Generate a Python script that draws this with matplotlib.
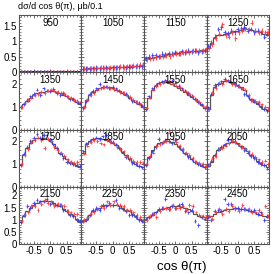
import numpy as np
import matplotlib
matplotlib.use("Agg")
import matplotlib.pyplot as plt
from matplotlib.ticker import MultipleLocator, FuncFormatter

plt.rcParams['font.family'] = ['Liberation Sans', 'DejaVu Sans']

energies = [950, 1050, 1150, 1250, 1350, 1450, 1550, 1650,
            1750, 1850, 1950, 2050, 2150, 2250, 2350, 2450]
cos_bins = [-0.9, -0.8, -0.7, -0.6, -0.5, -0.4, -0.3, -0.2, -0.1, 0.0,
            0.1, 0.2, 0.3, 0.4, 0.5, 0.6, 0.7, 0.8, 0.9]

# model histogram, one row per energy
model = [
    [0.0, 0.0, 0.0, 0.0, 0.0, 0.0, 0.0, 0.0, 0.0, 0.0, 0.0, 0.0, 0.0, 0.0, 0.0, 0.0, 0.0, 0.0, 0.0],
    [0.12, 0.12, 0.13, 0.13, 0.13, 0.14, 0.14, 0.15, 0.15, 0.16, 0.16, 0.17, 0.17, 0.18, 0.18, 0.19, 0.19, 0.2, 0.21],
    [0.42, 0.45, 0.47, 0.5, 0.52, 0.54, 0.56, 0.58, 0.6, 0.62, 0.63, 0.65, 0.66, 0.67, 0.68, 0.69, 0.7, 0.71, 0.72],
    [0.8, 0.95, 1.1, 1.2, 1.22, 1.25, 1.28, 1.3, 1.32, 1.35, 1.38, 1.42, 1.4, 1.38, 1.35, 1.32, 1.3, 1.25, 1.2],
    [1.0, 1.1, 1.25, 1.4, 1.5, 1.58, 1.62, 1.66, 1.68, 1.7, 1.68, 1.65, 1.6, 1.52, 1.45, 1.38, 1.3, 1.2, 1.1],
    [1.0, 1.3, 1.5, 1.65, 1.75, 1.82, 1.86, 1.86, 1.84, 1.8, 1.75, 1.68, 1.6, 1.5, 1.4, 1.3, 1.2, 1.1, 1.0],
    [0.9, 1.4, 1.75, 1.92, 2.02, 2.08, 2.1, 2.05, 1.98, 1.9, 1.82, 1.72, 1.62, 1.52, 1.42, 1.32, 1.2, 1.08, 0.95],
    [0.9, 1.5, 1.85, 1.98, 2.05, 2.1, 2.12, 2.08, 2.02, 1.95, 1.85, 1.72, 1.5, 1.32, 1.22, 1.12, 1.02, 0.92, 0.85],
    [0.95, 1.4, 1.7, 1.92, 2.05, 2.12, 2.15, 2.15, 2.1, 2.0, 1.85, 1.68, 1.5, 1.35, 1.2, 1.08, 1.0, 0.92, 0.85],
    [1.5, 1.85, 2.0, 2.08, 2.12, 2.15, 2.1, 2.05, 2.0, 1.92, 1.82, 1.68, 1.52, 1.38, 1.22, 1.1, 1.0, 0.9, 0.85],
    [0.95, 1.3, 1.6, 1.8, 1.9, 1.95, 2.0, 2.0, 1.95, 1.88, 1.78, 1.65, 1.5, 1.35, 1.2, 1.1, 1.0, 0.92, 0.85],
    [0.9, 1.1, 1.4, 1.6, 1.72, 1.82, 1.9, 1.95, 1.95, 1.9, 1.8, 1.7, 1.55, 1.4, 1.25, 1.15, 1.05, 0.95, 0.85],
    [0.9, 1.15, 1.35, 1.5, 1.6, 1.7, 1.75, 1.78, 1.78, 1.75, 1.7, 1.62, 1.55, 1.45, 1.35, 1.25, 1.15, 1.05, 0.9],
    [0.95, 1.05, 1.2, 1.35, 1.45, 1.5, 1.55, 1.6, 1.62, 1.62, 1.6, 1.58, 1.5, 1.42, 1.35, 1.25, 1.15, 1.05, 0.95],
    [1.0, 1.1, 1.2, 1.3, 1.4, 1.45, 1.5, 1.52, 1.55, 1.55, 1.55, 1.52, 1.5, 1.45, 1.35, 1.25, 1.15, 1.1, 1.1],
    [1.1, 1.15, 1.25, 1.3, 1.35, 1.4, 1.45, 1.45, 1.5, 1.5, 1.45, 1.45, 1.4, 1.35, 1.3, 1.25, 1.2, 1.15, 1.1],
]

blue = [
    [0.0, 0.0, 0.01, 0.0, 0.0, 0.01, 0.0, 0.0, 0.0, 0.01, 0.0, 0.0, 0.01, 0.0, 0.0, 0.0, 0.01, 0.0, 0.0],
    [0.11, 0.13, 0.12, 0.14, 0.15, 0.13, 0.15, 0.16, 0.14, 0.17, 0.16, 0.16, 0.18, 0.17, 0.19, 0.18, 0.2, 0.19, 0.2],
    [0.45, 0.5, 0.55, 0.55, 0.52, 0.6, 0.58, 0.62, 0.6, 0.65, 0.62, 0.68, 0.65, 0.7, 0.68, 0.7, 0.65, 0.68, 0.7],
    [0.85, 0.95, 1.15, 1.4, 1.45, 1.3, 1.25, 1.35, 1.3, 1.4, 1.42, 1.45, 1.35, 1.4, 1.3, 1.35, 1.3, 1.15, 1.25],
    [1.0, 1.12, 1.3, 1.45, 1.55, 1.75, 1.5, 1.8, 1.7, 1.68, 1.78, 1.6, 1.5, 1.6, 1.45, 1.35, 1.35, 1.2, 1.15],
    [0.95, 1.25, 1.55, 1.7, 1.8, 1.98, 1.85, 1.88, 1.82, 1.85, 1.8, 1.7, 1.6, 1.55, 1.4, 1.25, 1.2, 1.15, 1.05],
    [0.9, 1.45, 1.8, 1.95, 2.05, 2.1, 2.15, 2.1, 2.12, 2.05, 1.9, 1.8, 1.7, 1.6, 1.48, 1.35, 1.2, 1.1, 0.95],
    [0.95, 1.55, 1.95, 2.0, 2.1, 2.2, 2.15, 2.05, 2.0, 1.9, 1.8, 1.55, 1.45, 1.3, 1.25, 1.15, 1.0, 0.9, 0.8],
    [0.95, 1.45, 1.75, 2.0, 2.15, 2.3, 2.15, 2.25, 2.25, 2.05, 1.85, 1.7, 1.45, 1.25, 1.1, 1.05, 1.0, 0.95, 0.9],
    [1.55, 1.9, 2.0, 2.1, 2.15, 2.1, 2.2, 2.25, 2.05, 1.95, 1.85, 1.7, 1.5, 1.3, 1.2, 1.05, 1.0, 0.9, 0.85],
    [0.95, 1.25, 1.55, 1.75, 2.1, 1.9, 2.05, 2.0, 1.9, 2.05, 1.75, 1.6, 1.45, 1.3, 1.2, 1.1, 1.0, 0.95, 0.88],
    [0.95, 1.15, 1.4, 1.65, 1.75, 1.85, 2.05, 2.05, 2.0, 1.85, 1.75, 1.6, 1.5, 1.35, 1.25, 1.1, 1.0, 0.95, 0.8],
    [0.9, 1.2, 1.55, 1.5, 1.7, 1.8, 1.75, 1.75, 1.85, 1.65, 1.7, 1.6, 1.6, 1.4, 1.35, 1.2, 1.15, 1.0, 0.95],
    [0.95, 1.0, 1.2, 1.4, 1.5, 1.4, 1.6, 1.55, 1.7, 1.6, 1.8, 1.5, 1.45, 1.35, 1.2, 1.2, 1.1, 1.0, 0.95],
    [1.05, 1.1, 1.25, 1.3, 1.45, 1.5, 1.85, 1.45, 1.55, 1.5, 1.6, 1.65, 1.35, 1.3, 1.4, 0.95, 0.8, 1.1, 1.05],
    [1.1, 1.0, 1.35, 1.4, 1.35, 1.85, 1.65, 1.65, 1.5, 1.5, 1.45, 1.45, 1.4, 1.35, 1.4, 1.25, 1.3, 1.0, 1.15],
]

red = [
    [0.0, 0.01, 0.0, 0.0, 0.01, 0.0, 0.0, 0.01, 0.0, 0.0, 0.01, 0.0, 0.0, 0.01, 0.0, 0.01, 0.0, 0.01, 0.0],
    [0.12, 0.11, 0.13, 0.12, 0.14, 0.15, 0.14, 0.14, 0.16, 0.15, 0.17, 0.18, 0.16, 0.19, 0.2, 0.21, 0.22, 0.25, 0.24],
    [0.42, 0.44, 0.45, 0.48, 0.5, 0.5, 0.55, 0.52, 0.58, 0.6, 0.6, 0.65, 0.68, 0.65, 0.7, 0.72, 0.7, 0.72, 0.74],
    [0.8, 0.9, 1.1, 1.25, 1.55, 1.2, 1.15, 1.3, 1.1, 1.3, 1.35, 1.4, 1.4, 1.6, 1.35, 1.3, 1.35, 1.3, 1.3],
    [0.98, 1.15, 1.28, 1.4, 1.5, 1.55, 1.65, 1.6, 1.7, 1.72, 1.7, 1.65, 1.6, 1.55, 1.45, 1.4, 1.3, 1.25, 1.2],
    [1.0, 1.3, 1.5, 1.6, 1.75, 1.8, 1.85, 1.85, 1.8, 1.78, 1.72, 1.65, 1.6, 1.5, 1.42, 1.3, 1.2, 1.1, 1.0],
    [0.95, 1.4, 1.75, 1.9, 2.0, 2.05, 2.1, 2.08, 2.0, 1.92, 1.85, 1.75, 1.65, 1.55, 1.45, 1.3, 1.2, 1.05, 0.98],
    [0.9, 1.6, 1.8, 2.05, 2.0, 2.15, 2.1, 2.0, 1.95, 1.9, 1.8, 1.75, 1.5, 1.3, 1.25, 1.2, 1.1, 1.0, 0.9],
    [1.0, 1.4, 1.65, 1.95, 2.05, 2.15, 2.05, 1.7, 2.1, 2.0, 1.75, 1.6, 1.5, 1.35, 1.2, 1.1, 1.05, 1.1, 1.15],
    [1.45, 1.8, 1.95, 2.05, 2.0, 1.9, 1.85, 2.05, 1.95, 1.9, 1.75, 1.65, 1.55, 1.35, 1.25, 1.15, 1.1, 1.1, 1.05],
    [1.0, 1.35, 1.5, 1.8, 1.85, 1.95, 2.0, 2.35, 2.1, 1.95, 1.8, 1.65, 1.5, 1.4, 1.25, 1.1, 1.05, 1.0, 0.9],
    [0.95, 1.25, 1.35, 1.65, 1.7, 1.8, 1.9, 2.0, 1.95, 1.85, 1.75, 1.65, 1.55, 1.45, 1.3, 1.2, 1.1, 1.15, 1.0],
    [0.95, 1.2, 1.3, 1.55, 1.55, 1.4, 1.65, 1.8, 1.7, 1.75, 1.55, 1.65, 1.6, 1.55, 1.35, 1.3, 1.25, 1.25, 0.8],
    [1.0, 1.1, 1.25, 1.3, 1.45, 1.55, 1.5, 1.75, 1.6, 1.75, 1.65, 1.6, 1.55, 1.4, 1.4, 1.3, 1.2, 1.1, 1.0],
    [1.0, 1.15, 1.25, 1.1, 1.35, 1.5, 1.5, 1.45, 1.6, 1.5, 1.5, 1.55, 1.4, 1.6, 1.55, 1.3, 1.2, 1.15, 1.1],
    [1.15, 1.05, 1.3, 1.45, 1.25, 1.45, 1.35, 1.55, 1.45, 1.35, 1.6, 1.45, 1.45, 1.3, 1.3, 1.4, 1.25, 1.55, 1.15],
]

row_ylim = [1.85, 2.5, 2.5, 2.35]
row_major = [0.5, 1.0, 1.0, 0.5]
row_minor = [0.1, 0.2, 0.2, 0.1]

x = np.array(cos_bins)
edges = np.append(x - 0.05, x[-1] + 0.05)

fig, axes = plt.subplots(4, 4, figsize=(2.74, 2.74), dpi=100)
fig.subplots_adjust(left=0.069, right=0.982, top=0.945, bottom=0.109,
                    wspace=0, hspace=0)

fmt = FuncFormatter(lambda v, p: '%g' % v)
frame = '#555555'

for i, ax in enumerate(axes.flat):
    r, c = divmod(i, 4)
    ax.errorbar(x, blue[i], xerr=0.045, yerr=0.08, fmt='none',
                ecolor='#3a3aff', elinewidth=0.8, alpha=0.85)
    ax.errorbar(x + 0.03, red[i], xerr=0.045, yerr=0.08, fmt='none',
                ecolor='#ff3a3a', elinewidth=0.8, alpha=0.85)
    col = '#000070' if i == 0 else '#555555'
    ax.stairs(model[i], edges, baseline=None, color=col,
              lw=0.9 if i else 1.3)

    ax.set_xlim(-0.95, 0.95)
    ax.set_ylim(0, row_ylim[r])
    ax.xaxis.set_major_locator(MultipleLocator(0.5))
    ax.xaxis.set_minor_locator(MultipleLocator(0.1))
    ax.yaxis.set_major_locator(MultipleLocator(row_major[r]))
    ax.yaxis.set_minor_locator(MultipleLocator(row_minor[r]))
    ax.xaxis.set_major_formatter(fmt)
    ax.yaxis.set_major_formatter(fmt)
    ax.tick_params(which='both', direction='in', top=True, right=True,
                   labelsize=7, pad=1.5, color=frame)
    ax.tick_params(which='major', length=2.5, width=0.6)
    ax.tick_params(which='minor', length=1.3, width=0.5)
    if c > 0:
        ax.tick_params(labelleft=False)
    if r < 3:
        ax.tick_params(labelbottom=False)
    for s in ax.spines.values():
        s.set_color(frame)
        s.set_linewidth(0.8)
    ax.text(0.5, 0.955, str(energies[i]), transform=ax.transAxes,
            ha='center', va='top', fontsize=7)

fig.text(0.066, 0.978, 'dσ/d cos θ(π), μb/0.1', fontsize=6.5,
         ha='left', va='center')
fig.text(0.665, 0.025, 'cos θ(π)', fontsize=9.5, ha='center', va='center')

fig.savefig('out.png', dpi=100)
